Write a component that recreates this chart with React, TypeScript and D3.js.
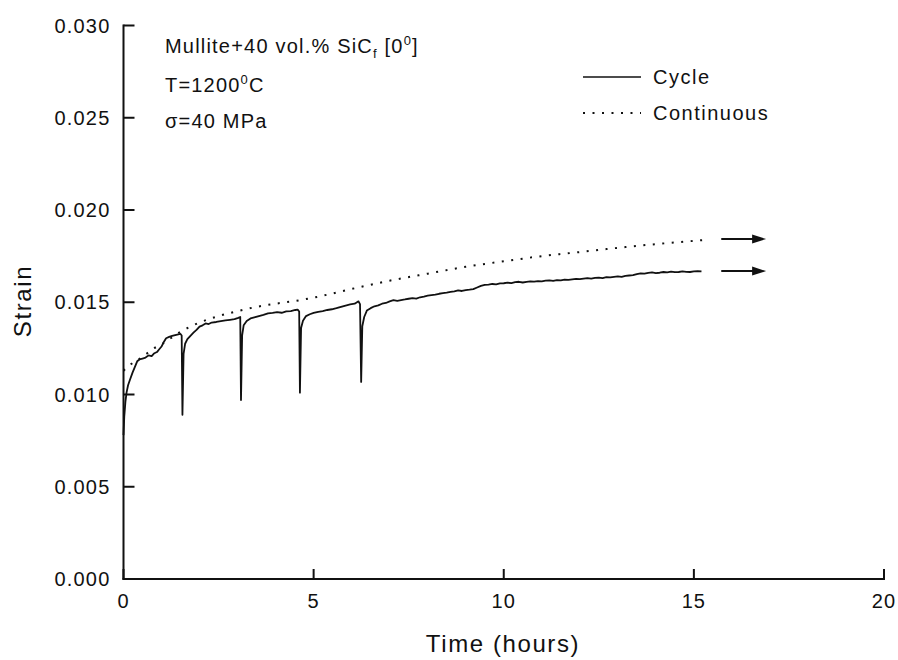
import React from "react";
import * as d3 from "d3";

const xTicks = [0, 5, 10, 15, 20];
const yTicks = [0, 0.005, 0.01, 0.015, 0.02, 0.025, 0.03];

const cycleTime = [
  0.0, 0.02, 0.05, 0.08, 0.12, 0.17, 0.24, 0.3, 0.36, 0.42, 0.5, 0.58, 0.66, 0.74, 0.8, 0.88, 0.94, 1.0, 1.06, 1.12,
  1.2, 1.28, 1.36, 1.44, 1.5, 1.53, 1.55, 1.58, 1.62, 1.68, 1.76, 1.84, 1.92, 2.0, 2.08, 2.16, 2.24, 2.32, 2.44, 2.56,
  2.68, 2.8, 2.92, 3.02, 3.07, 3.09, 3.12, 3.16, 3.24, 3.34, 3.44, 3.56, 3.68, 3.8, 3.92, 4.04, 4.16, 4.28, 4.4, 4.52,
  4.58, 4.62, 4.64, 4.67, 4.72, 4.8, 4.9, 5.0, 5.12, 5.24, 5.36, 5.48, 5.6, 5.72, 5.84, 5.96, 6.08, 6.18, 6.22, 6.25,
  6.28, 6.33, 6.4, 6.5, 6.6, 6.7, 6.8, 6.9,
  7.0, 7.1, 7.2, 7.3, 7.4, 7.5, 7.6, 7.7, 7.8, 7.9, 8.0, 8.1, 8.2, 8.3, 8.4, 8.5, 8.6, 8.7, 8.8, 8.9,
  9.0, 9.1, 9.2, 9.3, 9.4, 9.5, 9.6, 9.7, 9.8, 9.9, 10.0, 10.1, 10.2, 10.3, 10.4, 10.5, 10.6, 10.7, 10.8, 10.9,
  11.0, 11.1, 11.2, 11.3, 11.4, 11.5, 11.6, 11.7, 11.8, 11.9, 12.0, 12.1, 12.2, 12.3, 12.4, 12.5, 12.6, 12.7, 12.8, 12.9,
  13.0, 13.1, 13.2, 13.3, 13.4, 13.5, 13.6, 13.7, 13.8, 13.9, 14.0, 14.1, 14.2, 14.3, 14.4, 14.5, 14.6, 14.7, 14.8, 14.9,
  15.0, 15.1, 15.2,
];
const cycleStrain = [
  0.0078, 0.0088, 0.0096, 0.0101, 0.0105, 0.0108, 0.0112, 0.0115, 0.0118, 0.0119, 0.01195, 0.012, 0.01212, 0.01208, 0.01222, 0.0123, 0.01245, 0.0126, 0.01285, 0.01305,
  0.01312, 0.01318, 0.01322, 0.01326, 0.01328, 0.0132, 0.0089, 0.0122, 0.01275, 0.013, 0.01318, 0.01335, 0.0135, 0.01368, 0.01375, 0.01385, 0.01382, 0.0139, 0.01393, 0.01398,
  0.01402, 0.01405, 0.01408, 0.01415, 0.0142, 0.0097, 0.0132, 0.01375, 0.01398, 0.01412, 0.01418, 0.01425, 0.01432, 0.0144, 0.01442, 0.01446, 0.01443, 0.0145, 0.01452, 0.01458,
  0.0146, 0.0145, 0.0101, 0.0136, 0.014, 0.01425, 0.01435, 0.01442, 0.01448, 0.01452, 0.01458, 0.01462, 0.01468, 0.01475, 0.01482, 0.01488, 0.01492, 0.01505, 0.0149, 0.01068,
  0.0137, 0.0142, 0.01455, 0.01468, 0.01478, 0.01483, 0.01492, 0.01496,
  0.01505, 0.01511, 0.01508, 0.01512, 0.01515, 0.01519, 0.01522, 0.0152, 0.01527, 0.01531, 0.01536, 0.01539, 0.01541, 0.01546, 0.01549, 0.01552, 0.01556, 0.01559, 0.01564, 0.01561,
  0.01566, 0.01568, 0.01571, 0.0158, 0.01589, 0.01594, 0.01596, 0.01599, 0.01597, 0.01602, 0.01603, 0.01606, 0.01604, 0.01609, 0.01611, 0.01607, 0.0161, 0.01613, 0.01612, 0.01615,
  0.01613, 0.01617, 0.01619, 0.01616, 0.0162, 0.01619, 0.01623, 0.01621, 0.01624, 0.01627, 0.01625, 0.01628, 0.01631, 0.01628, 0.01632, 0.01634, 0.01631, 0.01636, 0.01635, 0.01638,
  0.0164, 0.01637, 0.01643, 0.01645, 0.01647, 0.01653, 0.01657, 0.01655, 0.01659, 0.01662, 0.01658, 0.0166, 0.01664, 0.01662, 0.01666, 0.01663, 0.01664, 0.01667, 0.01665, 0.01664,
  0.01667, 0.01668, 0.01667,
];

const contTime = [0, 0.2, 0.4, 0.6, 0.8, 1.0, 1.5, 2.0, 2.5, 3.0, 3.5, 4.0, 4.6, 5.0, 6.0, 7.0, 8.0, 9.0, 10.0, 11.0, 12.0, 13.0, 14.0, 15.25];
const contStrain = [
  0.01129, 0.01165, 0.0119, 0.0122, 0.0125, 0.01272, 0.0134, 0.0139, 0.01425, 0.01452, 0.01475, 0.01492, 0.0151, 0.01525, 0.01572,
  0.01617, 0.01655, 0.01692, 0.01722, 0.0175, 0.01772, 0.01795, 0.01815, 0.01837,
];

const arrowFrom = 15.72;
const arrowTo = 16.9;
const arrowContStrain = 0.01843;
const arrowCycleStrain = 0.01669;

const FONT = "'Liberation Sans', Arial, Helvetica, sans-serif";

export default function App() {
  const x = d3.scaleLinear().domain([0, 20]).range([123.5, 884]);
  const y = d3.scaleLinear().domain([0, 0.03]).range([579, 25.5]);

  const cycle = cycleTime.map((t, i) => [t, cycleStrain[i]] as [number, number]);
  const cont = contTime.map((t, i) => [t, contStrain[i]] as [number, number]);

  const cycleLine = d3
    .line<[number, number]>()
    .x((d) => x(d[0]))
    .y((d) => y(d[1]))
    .curve(d3.curveLinear);
  const contLine = d3
    .line<[number, number]>()
    .x((d) => x(d[0]))
    .y((d) => y(d[1]))
    .curve(d3.curveMonotoneX);

  const arrow = (s: number, key: string) => {
    const x1 = x(arrowFrom);
    const x2 = x(arrowTo);
    const yy = y(s);
    return (
      <g key={key}>
        <line x1={x1} y1={yy} x2={x2 - 10} y2={yy} stroke="#111" strokeWidth={2} />
        <polygon points={`${x2},${yy} ${x2 - 14},${yy - 4.5} ${x2 - 14},${yy + 4.5}`} fill="#111" />
      </g>
    );
  };

  return (
    <div style={{ position: "absolute", left: 0, top: 0 }}>
      <svg width={898} height={660} style={{ display: "block", background: "#fff" }} fontFamily={FONT}>
        <rect width={898} height={660} fill="#fff" />
        {/* axes */}
        <line x1={x(0)} y1={y(0.03) - 1} x2={x(0)} y2={y(0) + 1} stroke="#111" strokeWidth={2} />
        <line x1={x(0) - 1} y1={y(0)} x2={x(20) + 1} y2={y(0)} stroke="#111" strokeWidth={2} />
        {yTicks.map((v) => (
          <g key={"y" + v}>
            <line x1={x(0)} x2={x(0) + 11} y1={y(v)} y2={y(v)} stroke="#111" strokeWidth={2} />
            <text x={x(0) - 13} y={y(v)} dy="0.36em" textAnchor="end" fontSize={20} letterSpacing={1.2} fill="#111">
              {d3.format(".3f")(v)}
            </text>
          </g>
        ))}
        {xTicks.map((v) => (
          <g key={"x" + v}>
            <line x1={x(v)} x2={x(v)} y1={y(0)} y2={y(0) - 10} stroke="#111" strokeWidth={2} />
            <text x={x(v)} y={608} textAnchor="middle" fontSize={20} letterSpacing={1.1} fill="#111">
              {v}
            </text>
          </g>
        ))}
        <text x={503} y={652} textAnchor="middle" fontSize={24} letterSpacing={1.6} fill="#111">
          Time (hours)
        </text>
        <text transform="translate(31,301) rotate(-90)" textAnchor="middle" fontSize={24} letterSpacing={1.6} fill="#111">
          Strain
        </text>

        {/* curves */}
        <path d={contLine(cont) || ""} fill="none" stroke="#111" strokeWidth={2} strokeDasharray="2 7.5" />
        <path d={cycleLine(cycle) || ""} fill="none" stroke="#111" strokeWidth={1.8} strokeLinejoin="round" />

        {arrow(arrowContStrain, "a1")}
        {arrow(arrowCycleStrain, "a2")}

        {/* annotation */}
        <g fontSize={20} fill="#111" letterSpacing={1.2}>
          <text x={165} y={53}>
            Mullite+40 vol.% SiC<tspan fontSize={13} dy={5}>f</tspan>
            <tspan dy={-5}> [0</tspan>
            <tspan fontSize={13} dy={-8}>0</tspan>
            <tspan dy={8}>]</tspan>
          </text>
          <text x={165} y={92}>
            T=1200<tspan fontSize={13} dy={-8}>0</tspan>
            <tspan dy={8}>C</tspan>
          </text>
          <text x={165} y={128}>σ=40 MPa</text>
        </g>

        {/* legend */}
        <g fontSize={20} fill="#111" letterSpacing={1.5}>
          <line x1={583} x2={641} y1={77} y2={77} stroke="#111" strokeWidth={1.7} />
          <text x={653} y={84}>Cycle</text>
          <line x1={583} x2={641} y1={113} y2={113} stroke="#111" strokeWidth={2} strokeDasharray="2 7.5" />
          <text x={653} y={120}>Continuous</text>
        </g>
      </svg>
    </div>
  );
}
